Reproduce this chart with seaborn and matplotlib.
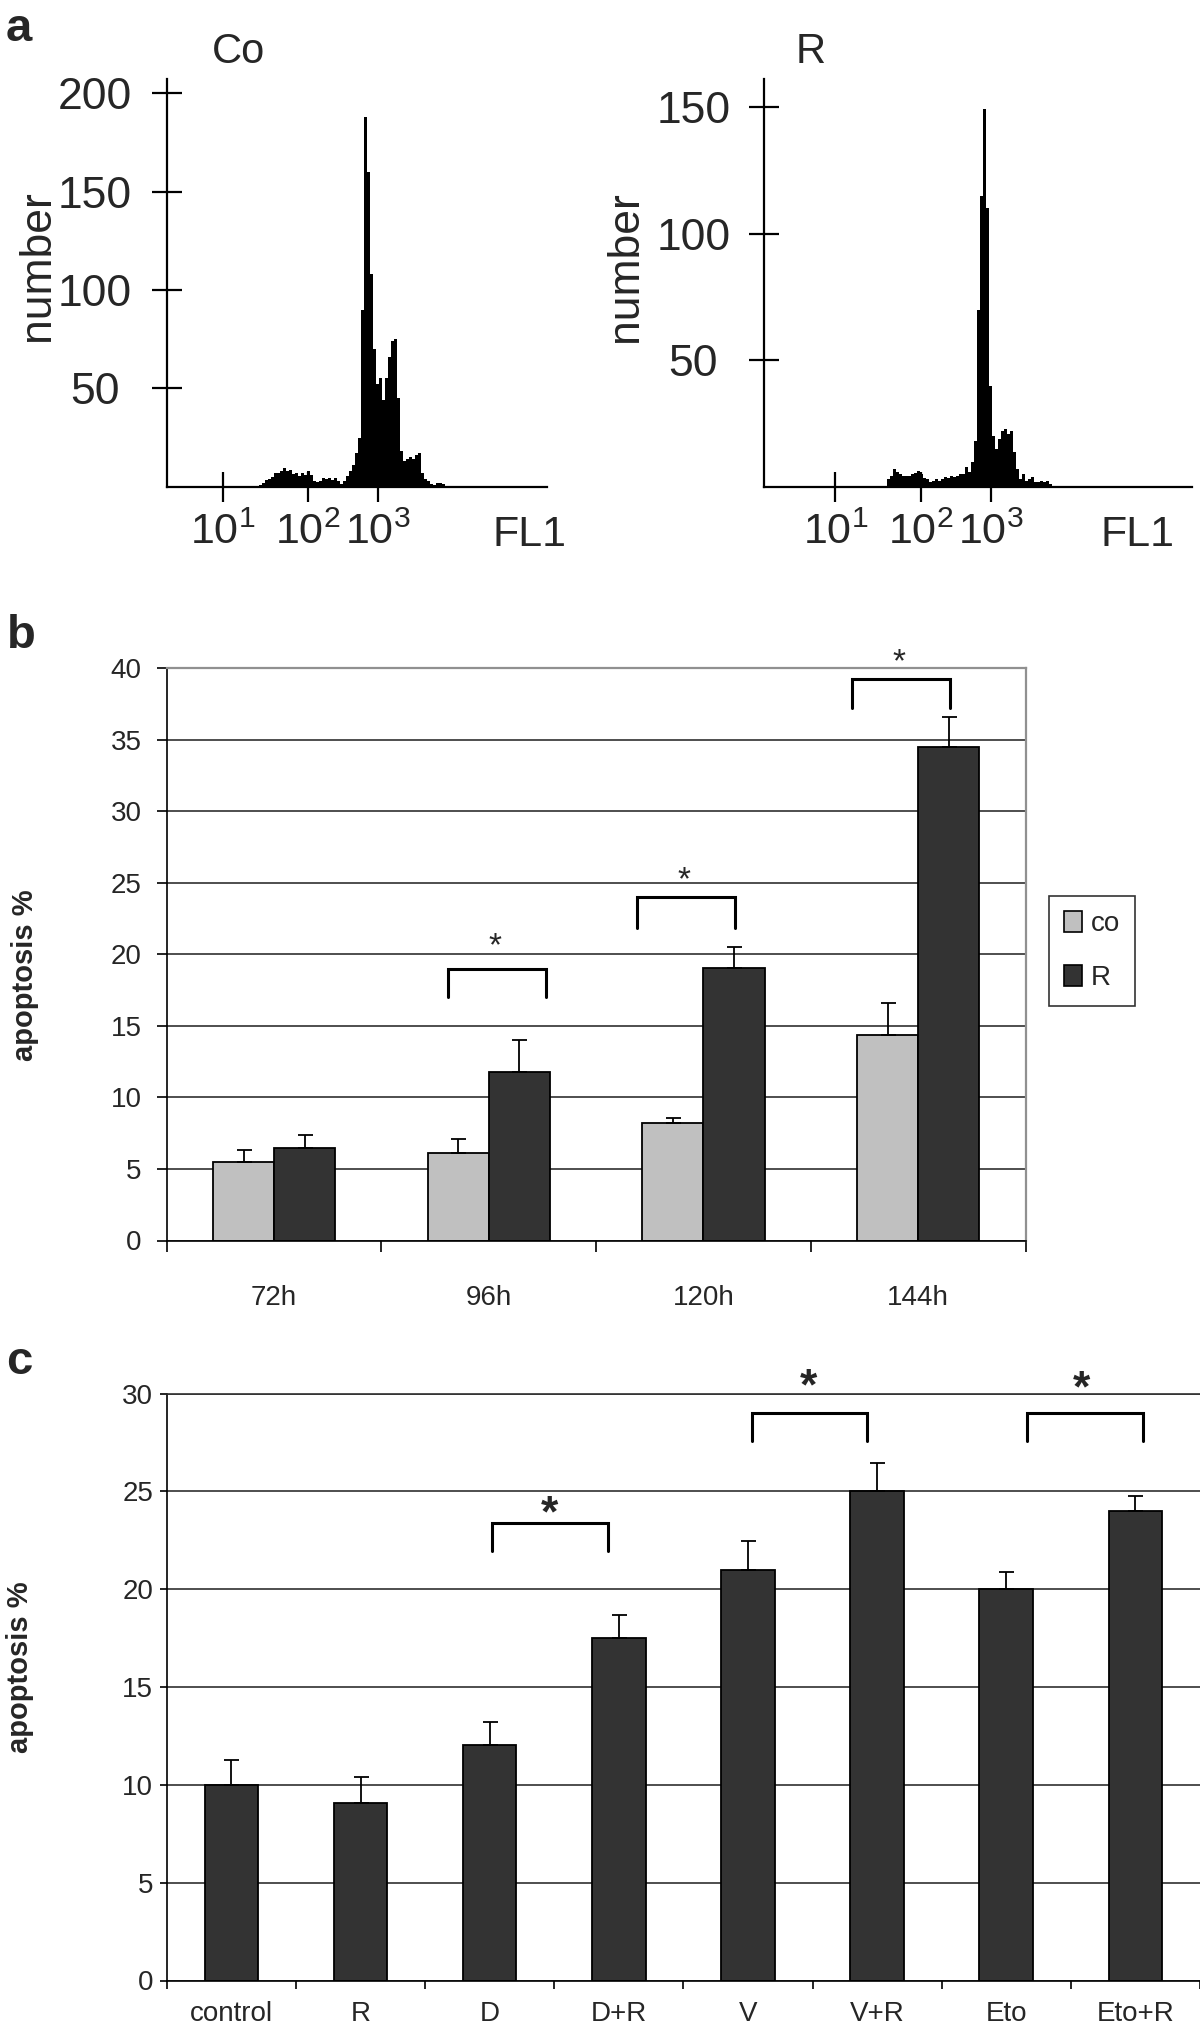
import numpy as np
import pandas as pd
import matplotlib
matplotlib.use("Agg")
import matplotlib.pyplot as plt
import matplotlib.patches as mpatches
import seaborn as sns

sns.set_style("white")
plt.rcParams['font.family'] = ['Liberation Sans', 'DejaVu Sans']
plt.rcParams['mathtext.fontset'] = 'custom'
plt.rcParams['mathtext.rm'] = 'Liberation Sans'

# -------------------------------
# data
# -------------------------------
# panel a: FL1 histograms, counts per 2-channel bin
co_start = 62
co_counts = [1, 2, 3.5, 4, 5, 7, 7, 8, 9.5, 8, 8.5, 6.5, 7, 5.5, 7, 6, 8, 6, 3, 2.5,
             3, 4.5, 4, 4.5, 3.5, 4.5, 3, 1.5, 3, 5.5, 8, 11, 17, 25, 90, 188, 160, 108,
             70, 52, 55, 44, 55, 66, 74, 75, 45, 18, 13, 14, 15, 14, 16, 17, 7, 4, 3,
             1.5, 1, 2, 2, 1.5, 0.5]
r_start = 72
r_counts = [3, 4.5, 7, 6, 5, 4.5, 4.5, 4.5, 5, 5.5, 6.5, 5, 3.5, 3, 2, 2.5, 3, 2.5, 3,
            4, 3.5, 4.5, 4, 4.5, 5, 5, 8, 6, 10, 18, 70, 115, 149, 110, 40, 20, 15, 19,
            22, 23, 21, 22, 14, 7, 3, 5, 2.5, 3, 4, 2, 2, 2.5, 2, 2.5, 1, 0.5]
fl1_ticks = [37.5, 94.5, 141.2]
fl1_labels = [r'$\mathregular{10^1}$', r'$\mathregular{10^2}$', r'$\mathregular{10^3}$']

# panel b: time course
times = ['72h', '96h', '120h', '144h']
co_mean = [5.5, 6.1, 8.2, 14.35]
co_err = [0.8, 1.0, 0.37, 2.25]
r_mean = [6.45, 11.75, 19.05, 34.5]
r_err = [0.95, 2.25, 1.45, 2.1]

# panel c: combinations
treatments = ['control', 'R', 'D', 'D+R', 'V', 'V+R', 'Eto', 'Eto+R']
c_mean = [10.0, 9.05, 12.05, 17.5, 21.0, 25.0, 20.0, 24.0]
c_err = [1.27, 1.37, 1.17, 1.2, 1.45, 1.45, 0.87, 0.77]

# significance brackets: (left, right, top, leg bottom), star (x, baseline)
b_brackets = [(0.808, 1.265, 19.0, 17.0), (1.692, 2.145, 24.0, 21.8), (2.69, 3.146, 39.25, 37.2)]
b_stars = [(1.03, 19.9), (1.91, 24.55), (2.91, 39.8)]
c_brackets = [(2.018, 2.919, 23.37, 21.97), (4.033, 4.922, 29.02, 27.6), (6.16, 7.056, 29.02, 27.6)]
c_stars = [(2.465, 23.2), (4.465, 29.7), (6.585, 29.6)]

W, H = 1200, 2032
fig = plt.figure(figsize=(W / 100, H / 100), dpi=100)


def box(x0, y0, x1, y1):
    # pixel box (top-left origin) -> figure rect
    return [x0 / W, 1 - y1 / H, (x1 - x0) / W, (y1 - y0) / H]


def ftext(x, y, s, **kw):
    fig.text(x / W, 1 - y / H, s, **kw)


# -------------------------------
# a. histograms
# -------------------------------
def flow_hist(ax, start, counts, xlim, ytop, yticks, ypad):
    chans = start + 1 + 2 * np.arange(len(counts))
    sns.histplot(x=chans, weights=counts, binwidth=2,
                 binrange=(start, start + 2 * len(counts)),
                 element='step', fill=True, color='black', alpha=1,
                 linewidth=0, ax=ax)
    ax.set_xlim(*xlim)
    ax.set_ylim(0, ytop)
    ax.set_xticks(fl1_ticks, fl1_labels)
    ax.set_yticks(yticks)
    ax.set_xlabel('')
    ax.set_ylabel('')
    for s in ['top', 'right']:
        ax.spines[s].set_visible(False)
    for s in ['left', 'bottom']:
        ax.spines[s].set_linewidth(1.6)
        ax.spines[s].set_color('black')
    ax.tick_params(direction='inout', length=21, width=1.6, color='black')
    ax.tick_params(axis='y', pad=ypad, labelsize=32, left=True)
    ax.tick_params(axis='x', pad=8, labelsize=31, bottom=True)
    for t in ax.get_yticklabels():
        t.set_ha('center')
    ax.patch.set_alpha(0)


ax_co = fig.add_axes(box(166.5, 78.8, 546.7, 486.7))
flow_hist(ax_co, co_start, co_counts, (0, 253.5), 207.3, [50, 100, 150, 200], 41)
ax_r = fig.add_axes(box(763.5, 78.8, 1191.5, 487.0))
flow_hist(ax_r, r_start, r_counts, (-10.5, 274.9), 161.1, [50, 100, 150], 40)

ftext(6, 41, 'a', fontsize=34, fontweight='bold', ha='left', va='baseline')
ftext(239, 63, 'Co', fontsize=30, ha='center', va='baseline')
ftext(811, 63, 'R', fontsize=30, ha='center', va='baseline')
ftext(37, 266, 'number', fontsize=32, rotation=90, ha='center', va='center')
ftext(626, 267, 'number', fontsize=32, rotation=90, ha='center', va='center')
ftext(529, 546, 'FL1', fontsize=31, ha='center', va='baseline')
ftext(1137, 546, 'FL1', fontsize=31, ha='center', va='baseline')


# -------------------------------
# shared bar styling
# -------------------------------
def style_bars(ax, n, ytop, ytick_len, ypad, xpad, minor_len):
    ax.set_xlim(-0.5, n - 0.5)
    ax.set_ylim(0, ytop)
    ax.set_yticks(np.arange(0, ytop + 1, 5))
    ax.yaxis.grid(True, color='#303030', linewidth=1.2)
    ax.xaxis.grid(False)
    ax.set_axisbelow(True)
    ax.set_xlabel('')
    ax.set_ylabel('apoptosis %', fontsize=21, fontweight='bold')
    ax.tick_params(axis='y', direction='out', left=True, length=ytick_len, width=1.2,
                   color='black', labelsize=20, pad=ypad)
    ax.tick_params(axis='x', which='major', length=0, labelsize=20, pad=xpad)
    ax.set_xticks(np.arange(-0.5, n, 1), minor=True)
    ax.tick_params(axis='x', which='minor', direction='out', bottom=True,
                   length=minor_len, width=1.2, color='black')
    for s in ['left', 'bottom']:
        ax.spines[s].set_color('black')
        ax.spines[s].set_linewidth(1.2)


def draw_brackets(ax, brackets, stars, star_size, star_weight):
    for x0, x1, yt, yb in brackets:
        ax.plot([x0, x0, x1, x1], [yb, yt, yt, yb], color='black', lw=2.2,
                clip_on=False, solid_joinstyle='miter', zorder=5)
    for x, y in stars:
        ax.text(x, y, '*', fontsize=star_size, fontweight=star_weight,
                ha='center', va='baseline', clip_on=False)


# -------------------------------
# b. time course
# -------------------------------
df_b = pd.DataFrame({
    'time': times * 2,
    'group': ['co'] * len(times) + ['R'] * len(times),
    'apoptosis': co_mean + r_mean,
})
pal_b = {'co': '#c0c0c0', 'R': '#333333'}

ax_b = fig.add_axes(box(166.8, 668, 1025.5, 1240.5))
sns.barplot(data=df_b, x='time', y='apoptosis', hue='group', order=times,
            hue_order=['co', 'R'], palette=pal_b, saturation=1, width=0.57,
            edgecolor='black', linewidth=1.3, errorbar=None, legend=False, ax=ax_b)
for cont, err in zip(list(ax_b.containers), [co_err, r_err]):
    xs = [p.get_x() + p.get_width() / 2 for p in cont]
    ys = [p.get_height() for p in cont]
    ax_b.errorbar(xs, ys, yerr=[np.zeros(len(err)), err], fmt='none', ecolor='black',
                  elinewidth=1.3, capsize=5.4, capthick=1.3, zorder=4)
style_bars(ax_b, len(times), 40, 7.2, 11, 32, 8)
for s in ['top', 'right']:
    ax_b.spines[s].set_visible(True)
    ax_b.spines[s].set_color('#909090')
    ax_b.spines[s].set_linewidth(1.6)
ax_b.yaxis.set_label_coords(39 / W, 1 - 975 / H, transform=fig.transFigure)
draw_brackets(ax_b, b_brackets, b_stars, 24, 'normal')

handles = [mpatches.Patch(facecolor=pal_b[g], edgecolor='black', linewidth=1.2, label=g)
           for g in ['co', 'R']]
leg = ax_b.legend(handles=handles, loc='upper left',
                  bbox_to_anchor=(1049 / W, 1 - 896 / H), bbox_transform=fig.transFigure,
                  frameon=True, fancybox=False, edgecolor='black', fontsize=20,
                  handlelength=0.65, handleheight=0.77, handletextpad=0.3,
                  labelspacing=1.0, borderpad=0.55, borderaxespad=0)
leg.get_frame().set_linewidth(1.2)

ftext(7, 648, 'b', fontsize=34, fontweight='bold', ha='left', va='baseline')

# -------------------------------
# c. combinations
# -------------------------------
df_c = pd.DataFrame({'treatment': treatments, 'apoptosis': c_mean})

ax_c = fig.add_axes(box(166.8, 1393.6, 1200, 1980.5))
sns.barplot(data=df_c, x='treatment', y='apoptosis', order=treatments, color='#333333',
            saturation=1, width=0.415, edgecolor='black', linewidth=1.3,
            errorbar=None, ax=ax_c)
bars = list(ax_c.containers[0])
xs = [p.get_x() + p.get_width() / 2 for p in bars]
ys = [p.get_height() for p in bars]
ax_c.errorbar(xs, ys, yerr=[np.zeros(len(c_err)), c_err], fmt='none', ecolor='black',
              elinewidth=1.3, capsize=5.4, capthick=1.3, zorder=4)
style_bars(ax_c, len(treatments), 30, 4.8, 5, 15, 5.5)
ax_c.spines['top'].set_visible(True)
ax_c.spines['top'].set_color('#303030')
ax_c.spines['top'].set_linewidth(1.2)
ax_c.spines['right'].set_visible(False)
ax_c.yaxis.set_label_coords(34 / W, 1 - 1667 / H, transform=fig.transFigure)
draw_brackets(ax_c, c_brackets, c_stars, 32, 'bold')

ftext(6, 1374, 'c', fontsize=34, fontweight='bold', ha='left', va='baseline')

fig.savefig('out.png', dpi=100)
